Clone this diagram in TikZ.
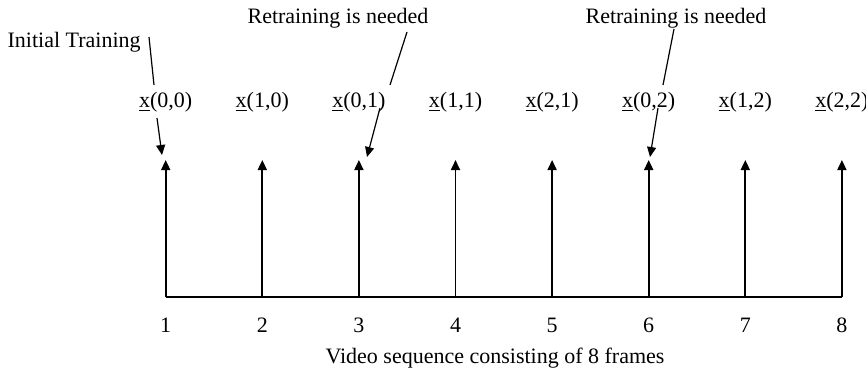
\documentclass[tikz,border=0pt]{standalone}
\usepackage{fontspec}
\setmainfont{Liberation Serif}
\usepackage{tikz}
\usetikzlibrary{arrows.meta}

\begin{document}
\begin{tikzpicture}[x=0.5pt,y=-0.5pt,>={Triangle[length=5pt,width=4.5pt]}, every node/.style={font=\fontsize{11}{13}\selectfont, inner sep=1pt}]
\tikzstyle{frame}=[line width=0.85pt]
\tikzstyle{callout}=[line width=0.6pt]
\useasboundingbox (0,0) rectangle (866,375);
% frames of the sequence
\foreach \i/\lab in {1/{0,0},2/{1,0},3/{0,1},4/{1,1},5/{2,1},6/{0,2},7/{1,2},8/{2,2}} {
  \coordinate (b\i) at ({165.7+(\i-1)*96.6},297);
  \coordinate (t\i) at ({165.7+(\i-1)*96.6},160);
  \node (l\i) at ({165.7+(\i-1)*96.6},102) {\underline{x}(\lab)};
  \node (n\i) at ({165.7+(\i-1)*96.6},325) {\i};
  \draw[frame,->] (b\i) -- (t\i);
}
\draw[frame] (b1) -- (b8);
\node (seq) at (495,358) {Video sequence consisting of 8 frames};
% callouts
\node[anchor=base east] (init) at (143,47) {Initial Training};
\node[anchor=base] (re1) at (338,24) {Retraining is needed};
\node[anchor=base] (re2) at (676,24) {Retraining is needed};
\coordinate (i1) at (149,37);
\coordinate (i2) at (154,85);
\coordinate (i3) at (157,118);
\coordinate (i4) at (162,155);
\coordinate (r1) at (407,32);
\coordinate (r2) at (390,85);
\coordinate (r3) at (380,108);
\coordinate (r4) at (367,157);
\coordinate (s1) at (674,29);
\coordinate (s2) at (663,85);
\coordinate (s3) at (658,108);
\coordinate (s4) at (650,157);
\draw[callout] (i1) -- (i2);
\draw[callout,->] (i3) -- (i4);
\draw[callout] (r1) -- (r2);
\draw[callout,->] (r3) -- (r4);
\draw[callout] (s1) -- (s2);
\draw[callout,->] (s3) -- (s4);
\end{tikzpicture}
\end{document}
